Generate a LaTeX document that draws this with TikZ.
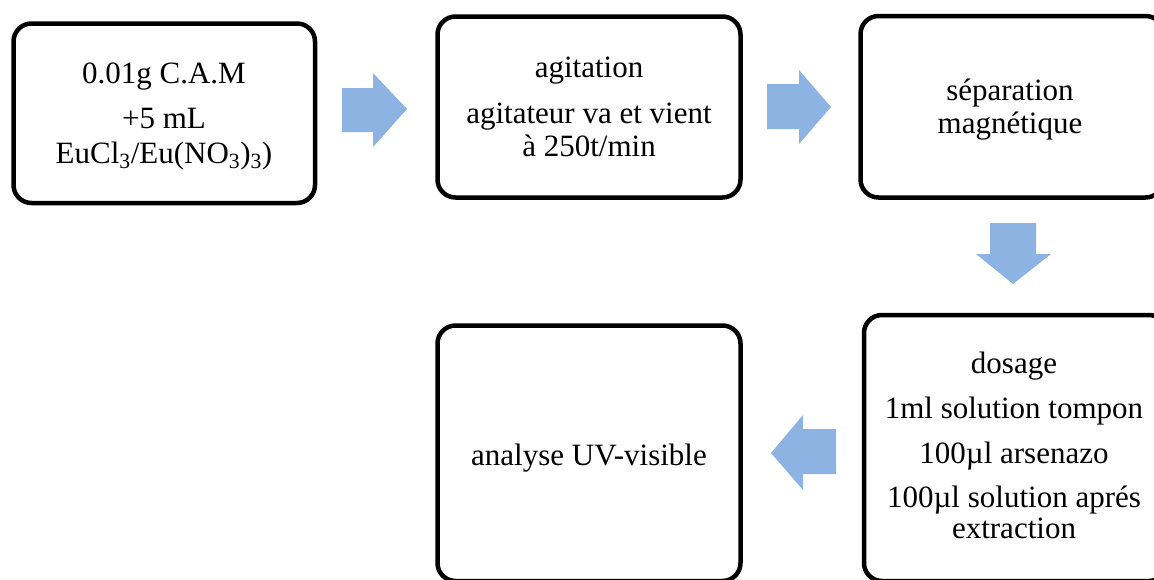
\documentclass[tikz,border=0pt]{standalone}
\usepackage{fontspec}
\setmainfont{Liberation Serif}
\definecolor{arrowblue}{RGB}{141,179,226}
\tikzset{
  box/.style={draw=black, line width=4.5pt, rounded corners=18pt, inner sep=0pt},
  txt/.style={anchor=base, inner sep=0pt, font=\fontsize{31}{36}\selectfont},
  blockarrow/.style={fill=arrowblue, draw=none}
}
\begin{document}
\begin{tikzpicture}[x=1pt,y=-1pt]
\useasboundingbox (0,0) rectangle (1154,579);
\clip (0,0) rectangle (1154,579);
% boxes
\node[box, minimum width=301.5pt, minimum height=179.5pt] (b1) at (164.25,113.25) {};
\node[box, minimum width=303pt, minimum height=181pt] (b2) at (589,107) {};
\node[box, minimum width=303pt, minimum height=181.5pt] (b3) at (1012,106.75) {};
\node[box, minimum width=303pt, minimum height=266pt] (b4) at (1015.5,448) {};
\node[box, minimum width=303pt, minimum height=255.5pt] (b5) at (589,453.25) {};
% texts
\node[txt] (t1a) at (164,83) {0.01g C.A.M};
\node[txt] (t1b) at (164,128) {+5 mL};
\node[txt] (t1c) at (164,163) {EuCl\textsubscript{3}/Eu(NO\textsubscript{3})\textsubscript{3})};
\node[txt] (t2a) at (589,77) {agitation};
\node[txt] (t2b) at (589,123) {agitateur va et vient};
\node[txt] (t2c) at (589,156) {à 250t/min};
\node[txt] (t3a) at (1010,100) {séparation};
\node[txt] (t3b) at (1010,133) {magnétique};
\node[txt] (t4a) at (1014,373) {dosage};
\node[txt] (t4b) at (1014,418) {1ml solution tompon};
\node[txt] (t4c) at (1014,463) {100µl arsenazo};
\node[txt] (t4d) at (1014,507) {100µl solution aprés};
\node[txt] (t4e) at (1014,538) {extraction};
\node[txt] (t5a) at (589,465) {analyse UV-visible};
% block arrows
\fill[blockarrow] (342,88) -- (373,88) -- (373,73) -- (407,109) -- (373,147) -- (373,132) -- (342,132) -- cycle;
\fill[blockarrow] (767,84) -- (799,84) -- (799,70) -- (831,107) -- (799,144) -- (799,129) -- (767,129) -- cycle;
\fill[blockarrow] (990,223) -- (1036,223) -- (1036,254) -- (1051,254) -- (1013,284) -- (976,254) -- (990,254) -- cycle;
\fill[blockarrow] (836,429) -- (803,429) -- (803,415) -- (771,453) -- (803,490) -- (803,474) -- (836,474) -- cycle;
\end{tikzpicture}
\end{document}
